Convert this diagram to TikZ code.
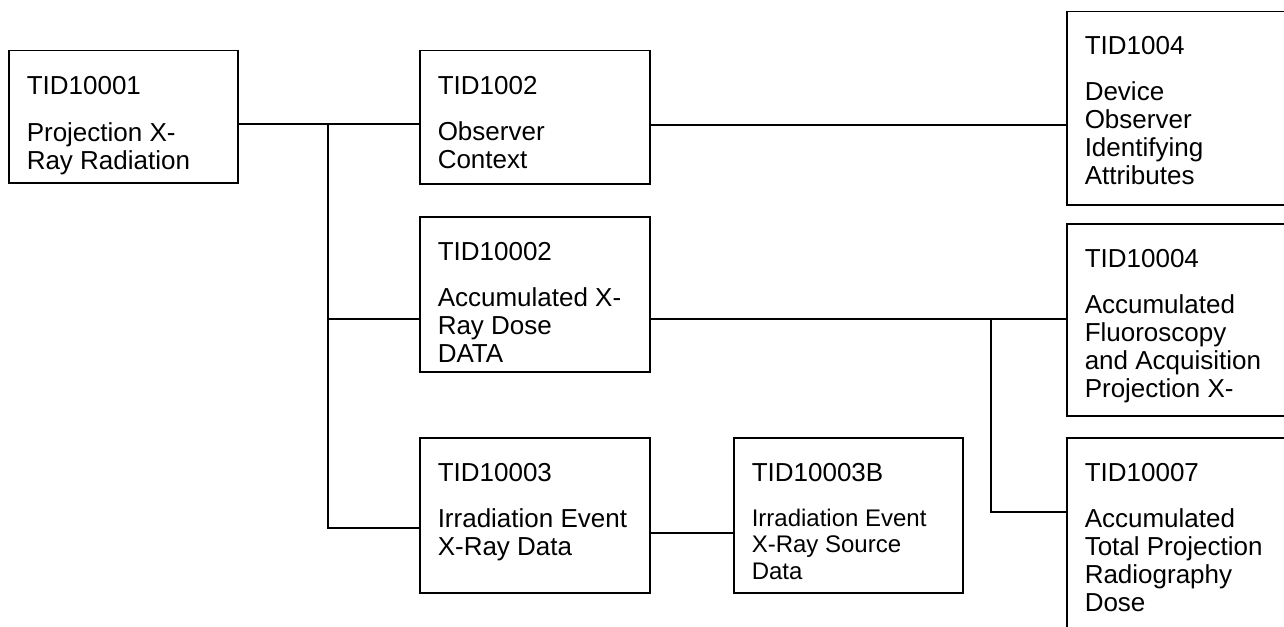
\documentclass[tikz,border=0pt]{standalone}
\usepackage{fontspec}
\setmainfont{Liberation Sans}
\usetikzlibrary{calc}

\newcommand{\tidlines}[1]{\begin{tabular}[t]{@{}l@{}}#1\end{tabular}}

\tikzset{
  tidbox/.style={draw, rectangle, anchor=north west, inner sep=0pt, minimum width=230pt},
  tidname/.style={anchor=base west, inner sep=0pt, font=\fontsize{26}{28.3}\selectfont},
  tidbody/.style={anchor=base west, inner sep=0pt, font=\fontsize{26}{28.3}\selectfont},
}

\begin{document}
\begin{tikzpicture}[line width=1.5pt, x=1pt, y=-1pt]
  \clip (0,0) rectangle (1284,626);

  % boxes
  \node[tidbox, minimum width=229pt, minimum height=132pt] (t10001) at (8,50) {};
  \node[tidbox, minimum height=133pt] (t1002) at (419,50) {};
  \node[tidbox, minimum height=155pt] (t10002) at (419,216) {};
  \node[tidbox, minimum height=155pt] (t10003) at (419,437) {};
  \node[tidbox, minimum width=229pt, minimum height=155pt] (t10003b) at (733,437) {};
  \node[tidbox, minimum height=193pt] (t1004) at (1066,11) {};
  \node[tidbox, minimum height=192pt] (t10004) at (1066,223) {};
  \node[tidbox, minimum height=230pt] (t10007) at (1066,437) {};

  % titles
  \node[tidname] (n10001) at ($(t10001.north west)+(18,44)$) {TID10001};
  \node[tidname] (n1002) at ($(t1002.north west)+(18,44)$) {TID1002};
  \node[tidname] (n10002) at ($(t10002.north west)+(18,44)$) {TID10002};
  \node[tidname] (n10003) at ($(t10003.north west)+(18,44)$) {TID10003};
  \node[tidname] (n10003b) at ($(t10003b.north west)+(18,44)$) {TID10003B};
  \node[tidname] (n1004) at ($(t1004.north west)+(18,44)$) {TID1004};
  \node[tidname] (n10004) at ($(t10004.north west)+(18,44)$) {TID10004};
  \node[tidname] (n10007) at ($(t10007.north west)+(18,44)$) {TID10007};

  % bodies
  \node[tidbody] (b10001) at ($(t10001.north west)+(18,91)$) {\tidlines{Projection X-\\Ray Radiation}};
  \node[tidbody] (b1002) at ($(t1002.north west)+(18,90)$) {\tidlines{Observer\\Context}};
  \node[tidbody] (b10002) at ($(t10002.north west)+(18,90)$) {\tidlines{Accumulated X-\\Ray Dose\\DATA}};
  \node[tidbody] (b10003) at ($(t10003.north west)+(18,90)$) {\tidlines{Irradiation Event\\X-Ray Data}};
  \node[tidbody, font=\fontsize{24}{26.7}\selectfont] (b10003b) at ($(t10003b.north west)+(18,89)$) {\tidlines{Irradiation Event\\X-Ray Source\\Data}};
  \node[tidbody] (b1004) at ($(t1004.north west)+(18,89)$) {\tidlines{Device\\Observer\\Identifying\\Attributes}};
  \node[tidbody] (b10004) at ($(t10004.north west)+(18,90)$) {\tidlines{Accumulated\\Fluoroscopy\\and Acquisition\\Projection X-}};
  \node[tidbody] (b10007) at ($(t10007.north west)+(18,90)$) {\tidlines{Accumulated\\Total Projection\\Radiography\\Dose}};

  % connectors
  \coordinate (trunk) at (328,124);
  \coordinate (split) at (991,319);
  \draw (t10001.east |- trunk) -- (t1002.west |- trunk);
  \draw (trunk) |- (t10003.west |- 0,528);
  \draw (trunk |- split) -- (t10002.west |- split);
  \draw (t1002.east |- 0,125) -- (t1004.west |- 0,125);
  \draw (t10002.east |- split) -- (t10004.west |- split);
  \draw (split) |- (t10007.west |- 0,512);
  \draw (t10003.east |- 0,533) -- (t10003b.west |- 0,533);
\end{tikzpicture}
\end{document}
